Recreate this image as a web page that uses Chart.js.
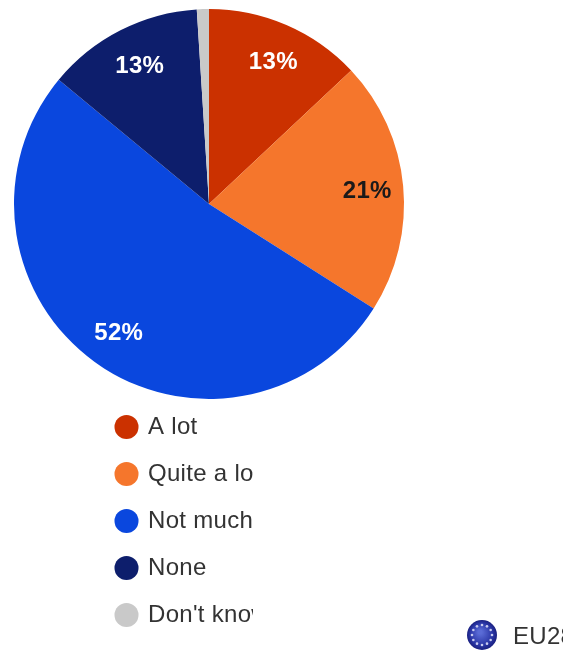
<!DOCTYPE html>
<html>
<head>
<meta charset="utf-8">
<style>
  html, body { margin: 0; padding: 0; background: #fff; }
  canvas { display: block; }
</style>
<script src="https://cdn.jsdelivr.net/npm/chart.js@4"></script>
</head>
<body>
<canvas id="chart" width="563" height="650"></canvas>
<script>
// Survey answers, EU28 share in percent
const categories = ['A lot', 'Quite a lot', 'Not much', 'None', "Don't know"];
const shares = [13, 21, 52, 13, 1];
const sliceColors = ['#CB3100', '#F5762C', '#0A47DE', '#0D1E6C', '#C9C9C9'];
const labelColors = ['#FFFFFF', '#1A1A1A', '#FFFFFF', '#FFFFFF', null];
const regionName = 'EU28';

const FONT = '"Liberation Sans Narrow", "Liberation Sans", Arial, sans-serif';

// Opens the narrow face up a little; has to be reapplied after each canvas resize
const textSpacing = {
  id: 'textSpacing',
  beforeLayout(chart) { chart.ctx.letterSpacing = '0.3px'; },
  beforeDraw(chart) { chart.ctx.letterSpacing = '0.3px'; }
};

// Places the legend column under the pie instead of beside it
const legendPlacement = {
  id: 'legendPlacement',
  afterLayout(chart) {
    const legend = chart.legend;
    const w = legend.width, h = legend.height;
    legend.left = 94;
    legend.right = legend.left + w;
    legend.top = 392;
    legend.bottom = legend.top + h;
  }
};

// Percentage labels inside the slices
const sliceLabels = {
  id: 'sliceLabels',
  afterDatasetsDraw(chart) {
    const { ctx } = chart;
    const arcs = chart.getDatasetMeta(0).data;
    ctx.save();
    ctx.font = 'bold 24px ' + FONT;
    ctx.textAlign = 'center';
    ctx.textBaseline = 'middle';
    arcs.forEach((arc, i) => {
      if (!labelColors[i]) return;
      const mid = (arc.startAngle + arc.endAngle) / 2;
      const r = arc.outerRadius * 0.805;
      ctx.fillStyle = labelColors[i];
      ctx.fillText(shares[i] + '%', arc.x + Math.cos(mid) * r + 2, arc.y + Math.sin(mid) * r + 2);
    });
    ctx.restore();
  }
};

// EU flag globe and region name at the bottom right
const regionBadge = {
  id: 'regionBadge',
  afterDraw(chart) {
    const { ctx } = chart;
    const cx = 482, cy = 635, r = 15;
    ctx.save();
    const g = ctx.createRadialGradient(cx - 2, cy - 3, 2, cx, cy, r);
    g.addColorStop(0, '#5A6BD6');
    g.addColorStop(0.7, '#2A36A6');
    g.addColorStop(1, '#1A2080');
    ctx.fillStyle = g;
    ctx.beginPath();
    ctx.arc(cx, cy, r, 0, Math.PI * 2);
    ctx.fill();
    ctx.fillStyle = '#C9CCEF';
    for (let k = 0; k < 12; k++) {
      const a = k * Math.PI / 6;
      ctx.beginPath();
      ctx.arc(cx + Math.cos(a) * 10, cy + Math.sin(a) * 10, 1.3, 0, Math.PI * 2);
      ctx.fill();
    }
    ctx.fillStyle = '#333333';
    ctx.font = '24px ' + FONT;
    ctx.textAlign = 'left';
    ctx.textBaseline = 'middle';
    ctx.fillText(regionName, 513, 637);
    ctx.restore();
  }
};

new Chart(document.getElementById('chart'), {
  type: 'pie',
  data: {
    labels: categories,
    datasets: [{
      data: shares,
      backgroundColor: sliceColors,
      borderWidth: 0
    }]
  },
  options: {
    responsive: false,
    animation: false,
    layout: { padding: { left: 14, top: 9, right: 0, bottom: 251 } },
    plugins: {
      tooltip: { enabled: false },
      legend: {
        position: 'right',
        align: 'start',
        maxWidth: 159,
        labels: {
          usePointStyle: true,
          pointStyle: 'circle',
          boxWidth: 19,
          boxHeight: 17,
          padding: 23,
          color: '#333333',
          font: { family: FONT, size: 24 }
        }
      }
    }
  },
  plugins: [textSpacing, legendPlacement, sliceLabels, regionBadge]
});
</script>
</body>
</html>
